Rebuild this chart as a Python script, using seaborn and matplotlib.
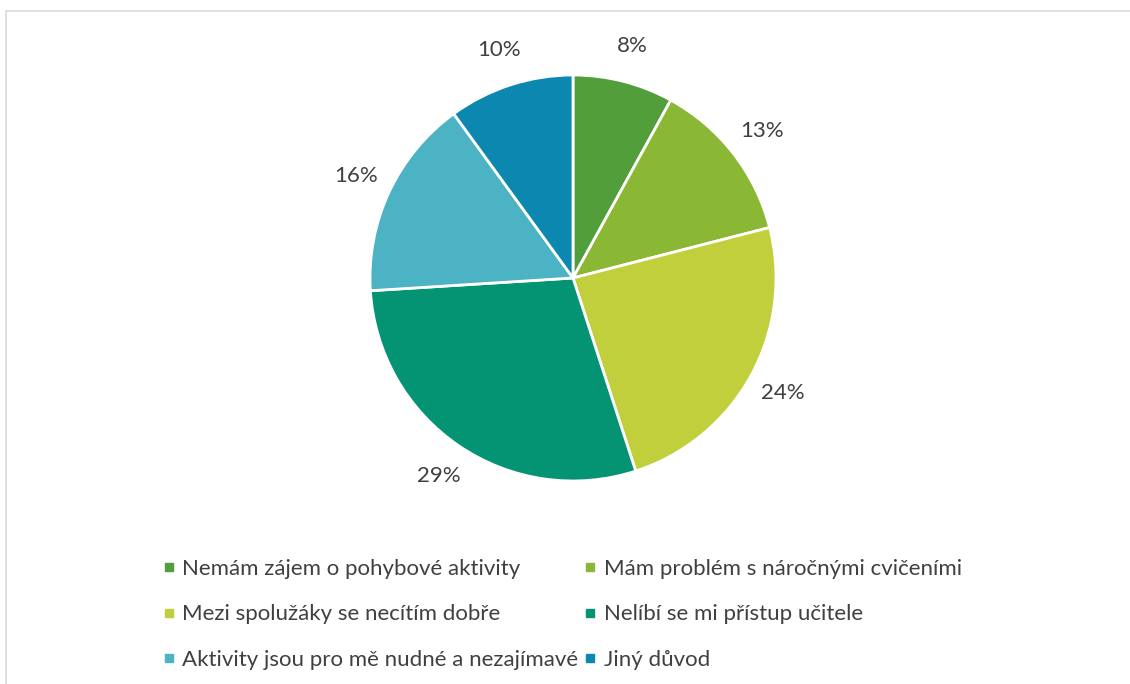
import matplotlib
matplotlib.use("Agg")
import matplotlib.pyplot as plt
import seaborn as sns
from matplotlib.lines import Line2D
from matplotlib.patches import Rectangle

# data
reasons = [
    "Nemám zájem o pohybové aktivity",
    "Mám problém s náročnými cvičeními",
    "Mezi spolužáky se necítím dobře",
    "Nelíbí se mi přístup učitele",
    "Aktivity jsou pro mě nudné a nezajímavé",
    "Jiný důvod",
]
shares = [8, 13, 24, 29, 16, 10]
colors = ["#529E3A", "#8BB834", "#C2CF3C", "#059473", "#4BB3C4", "#0B87B0"]

sns.set_theme(style="white")
plt.rcParams["font.family"] = ["Lato", "DejaVu Sans"]
text_color = "#404040"

W, H = 1130, 684
fig = plt.figure(figsize=(W / 100, H / 100), dpi=100)

# light grey frame of the chart area
fig.patches.append(Rectangle((6 / W, -0.1), 1.2, (H - 11) / H + 0.1,
                             transform=fig.transFigure, fill=False,
                             edgecolor="#D9D9D9", linewidth=1.2))

# pie placed so that centre is ~ (573, 278) px, radius ~203 px
cx, cy, r = 573, 278, 203
ax = fig.add_axes([(cx - r) / W, (H - cy - r) / H, 2 * r / W, 2 * r / H])
pal = sns.color_palette(colors)
wedges, texts, autotexts = ax.pie(
    shares, colors=pal, startangle=90, counterclock=False,
    autopct="%1.0f%%", pctdistance=1.18,
    wedgeprops=dict(edgecolor="white", linewidth=2),
    textprops=dict(fontsize=16, color=text_color),
)
ax.set_xlim(-1, 1)
ax.set_ylim(-1, 1)
ax.set_aspect("equal")
ax.axis("off")

# legend, filled row-wise like the original
handles = [Line2D([0], [0], marker="s", linestyle="none", markersize=6,
                  markerfacecolor=c, markeredgecolor=c) for c in colors]
order = [0, 2, 4, 1, 3, 5]
leg = fig.legend([handles[i] for i in order], [reasons[i] for i in order],
                 ncol=2, loc="upper left", bbox_to_anchor=(142 / W, 1 - 539 / H),
                 frameon=False, fontsize=16, handlelength=0.6,
                 handletextpad=0.3, columnspacing=0.25, labelspacing=1.14)
for t in leg.get_texts():
    t.set_color(text_color)

fig.savefig("out.png", dpi=100, facecolor="white")
